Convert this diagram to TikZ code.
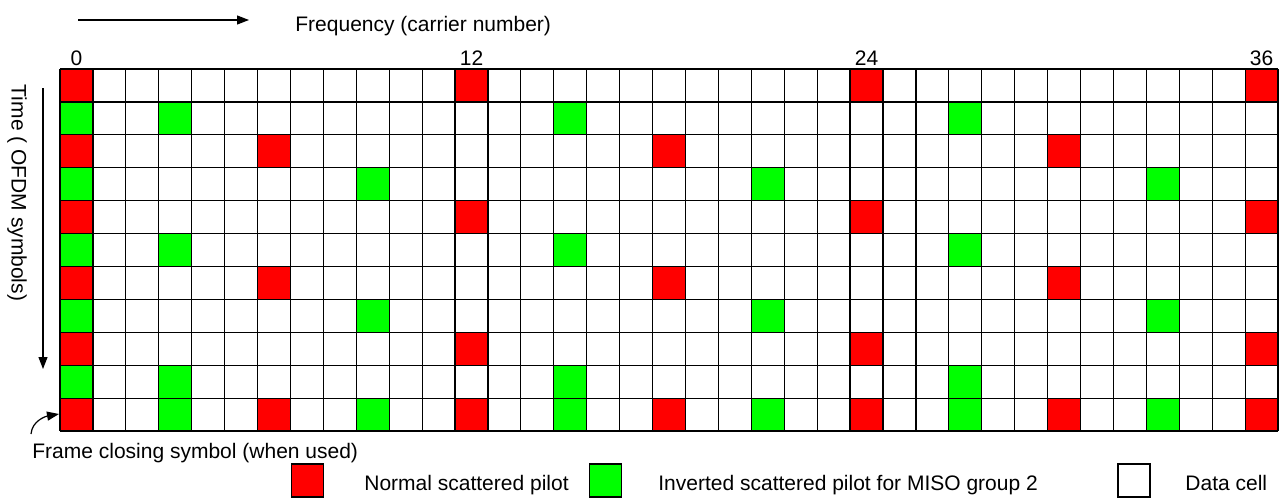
\documentclass[tikz,border=0pt]{standalone}
\usepackage{fontspec}
\setmainfont{Liberation Sans}
\usetikzlibrary{arrows.meta, positioning}
\definecolor{pilotred}{RGB}{255,0,0}
\definecolor{pilotgreen}{RGB}{0,255,0}

\begin{document}
\begin{tikzpicture}[x=0.5pt, y=-0.5pt,
    lbl/.style={font=\fontsize{10.5}{12.6}\selectfont, inner sep=0pt},
    arr/.style={line width=0.6pt, -{Triangle[length=6pt,width=4.5pt]}},
    keybox/.style={draw, line width=0.6pt, minimum width=16pt, minimum height=16.5pt, inner sep=0pt}]
  \useasboundingbox (0,0) rectangle (1284,498);
  % pilot cells
  \foreach \r in {0,4,8}{\foreach \c in {0,12,24,36}
    \fill[pilotred] ({60+\c*32.92},{69+\r*32.91}) rectangle ++(32.92,32.91);}
  \foreach \r in {2,6}{\foreach \c in {0,6,18,30}
    \fill[pilotred] ({60+\c*32.92},{69+\r*32.91}) rectangle ++(32.92,32.91);}
  \foreach \r in {1,5,9}{\foreach \c in {0,3,15,27}
    \fill[pilotgreen] ({60+\c*32.92},{69+\r*32.91}) rectangle ++(32.92,32.91);}
  \foreach \r in {3,7}{\foreach \c in {0,9,21,33}
    \fill[pilotgreen] ({60+\c*32.92},{69+\r*32.91}) rectangle ++(32.92,32.91);}
  \foreach \c in {0,6,...,36}
    \fill[pilotred] ({60+\c*32.92},{69+10*32.91}) rectangle ++(32.92,32.91);
  \foreach \c in {3,9,...,33}
    \fill[pilotgreen] ({60+\c*32.92},{69+10*32.91}) rectangle ++(32.92,32.91);
  % grid
  \foreach \c in {0,...,37}
    \draw[line width=0.6pt] ({60+\c*32.92},69) -- ({60+\c*32.92},431);
  \foreach \r in {0,...,11}
    \draw[line width=0.6pt] (60,{69+\r*32.91}) -- (1278,{69+\r*32.91});
  \foreach \c in {0,12,24,36}
    \node[lbl, anchor=base] (num\c) at ({76.5+\c*32.92},65) {\c};

  \coordinate (fstart) at (78,20);
  \coordinate (fend) at (249,20);
  \draw[arr] (fstart) -- (fend);
  \node[lbl, anchor=base west] (freq) at (295,32) {Frequency (carrier number)};

  \coordinate (tstart) at (43,88);
  \coordinate (tend) at (43,369);
  \draw[arr] (tstart) -- (tend);
  \node[lbl, rotate=-90] (time) at (17,193) {Time ( OFDM symbols)};

  \node[lbl, anchor=base west] (closing) at (32,458) {Frame closing symbol (when used)};
  \coordinate (fcsfrom) at (31,434);
  \coordinate (fcs) at (59,414);
  \draw[arr] (fcsfrom) to[out=85, in=190] (fcs);

  % legend
  \node[keybox, fill=pilotred] (keyred) at (307.5,480.5) {};
  \node[lbl, anchor=base west] (keyredtxt) at (364,490) {Normal scattered pilot};
  \node[keybox, fill=pilotgreen] (keygreen) at (605.5,480.5) {};
  \node[lbl, anchor=base west] (keygreentxt) at (658,490) {Inverted scattered pilot for MISO group 2};
  \node[keybox, fill=white] (keywhite) at (1134,480.5) {};
  \node[lbl, anchor=base west] (keywhitetxt) at (1185,490) {Data cell};
\end{tikzpicture}
\end{document}
